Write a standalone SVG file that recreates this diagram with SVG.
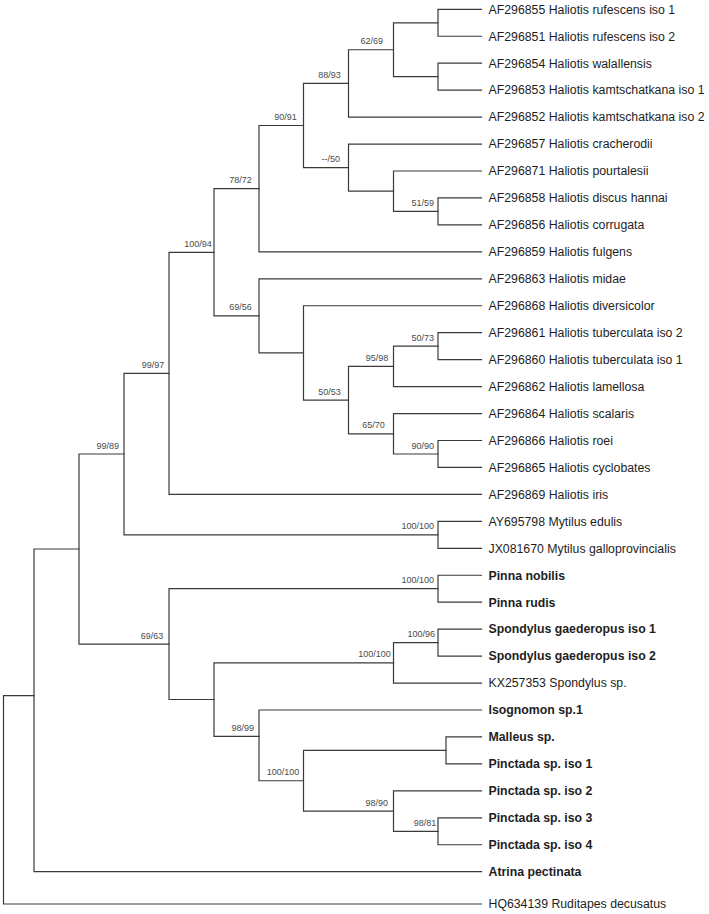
<svg xmlns="http://www.w3.org/2000/svg" width="709" height="914" viewBox="0 0 709 914">
<style>
.br{fill:none;stroke:#3a3a3a;stroke-width:1.2;stroke-linecap:square}
.lf{font-family:"Liberation Sans",Arial,sans-serif;font-size:12.3px;fill:#1e1e1e}
.b{font-weight:bold}
.sp{font-family:"Liberation Sans",Arial,sans-serif;font-size:9px;fill:#4a4a4a;text-anchor:end}
</style>
<rect width="709" height="914" fill="#ffffff"/>
<g id="connectors">
<path class="br" d="M34 695.7H3.5V904H481.5"/>
<path class="br" d="M79 549H34V871.7H481.5"/>
<path class="br" d="M124 454H79V644.1H169"/>
<path class="br" d="M169 373.3H124V534.8H438"/>
<path class="br" d="M214 252.3H169V494.4H481.5"/>
<path class="br" d="M259 188.7H214V315.9H259"/>
<path class="br" d="M303.5 125.5H259V251.85H481.5"/>
<path class="br" d="M348.5 83.4H303.5V167.6H348.5"/>
<path class="br" d="M393.5 49.75H348.5V117.1H481.5"/>
<path class="br" d="M438 22.8H393.5V76.7H438"/>
<path class="br" d="M481.5 9.3H438V36.25H481.5"/>
<path class="br" d="M481.5 63.2H438V90.15H481.5"/>
<path class="br" d="M481.5 144.05H348.5V191.2H393.5"/>
<path class="br" d="M481.5 171H393.5V211.4H438"/>
<path class="br" d="M481.5 197.95H438V224.9H481.5"/>
<path class="br" d="M481.5 278.8H259V352.9H303.5"/>
<path class="br" d="M481.5 305.75H303.5V400.1H348.5"/>
<path class="br" d="M393.5 366.4H348.5V433.8H393.5"/>
<path class="br" d="M438 346.2H393.5V386.6H481.5"/>
<path class="br" d="M481.5 332.7H438V359.65H481.5"/>
<path class="br" d="M481.5 413.55H393.5V454H438"/>
<path class="br" d="M481.5 440.5H438V467.45H481.5"/>
<path class="br" d="M481.5 521.35H438V548.3H481.5"/>
<path class="br" d="M438 588.7H169V699.5H214"/>
<path class="br" d="M481.5 575.25H438V602.2H481.5"/>
<path class="br" d="M393.5 662.8H214V736.3H259"/>
<path class="br" d="M438 642.6H393.5V683.05H481.5"/>
<path class="br" d="M481.5 629.15H438V656.1H481.5"/>
<path class="br" d="M481.5 710H259V780.75H303.5"/>
<path class="br" d="M446 750.4H303.5V811.1H393.5"/>
<path class="br" d="M481.5 736.95H446V763.9H481.5"/>
<path class="br" d="M481.5 790.85H393.5V831.3H438"/>
<path class="br" d="M481.5 817.8H438V844.75H481.5"/>
</g>
<g id="support-labels">
<g id="n-62-69"><text class="sp" x="383" y="44.3">62/69</text></g>
<g id="n-88-93"><text class="sp" x="340.7" y="77.9">88/93</text></g>
<g id="n-90-91"><text class="sp" x="296.7" y="120">90/91</text></g>
<g id="n-50"><text class="sp" x="340" y="162.1">--/50</text></g>
<g id="n-51-59"><text class="sp" x="434" y="205.9">51/59</text></g>
<g id="n-78-72"><text class="sp" x="251.7" y="183.2">78/72</text></g>
<g id="n-100-94"><text class="sp" x="211.7" y="246.8">100/94</text></g>
<g id="n-69-56"><text class="sp" x="251.7" y="310.4">69/56</text></g>
<g id="n-50-73"><text class="sp" x="434" y="340.7">50/73</text></g>
<g id="n-95-98"><text class="sp" x="388.3" y="360.9">95/98</text></g>
<g id="n-50-53"><text class="sp" x="340.7" y="394.6">50/53</text></g>
<g id="n-65-70"><text class="sp" x="384.7" y="428.3">65/70</text></g>
<g id="n-90-90"><text class="sp" x="434" y="448.5">90/90</text></g>
<g id="n-99-97"><text class="sp" x="164.3" y="367.8">99/97</text></g>
<g id="n-99-89"><text class="sp" x="119" y="448.5">99/89</text></g>
<g id="n-mytilus"><text class="sp" x="434" y="529.3">100/100</text></g>
<g id="n-pinna"><text class="sp" x="434" y="583.2">100/100</text></g>
<g id="n-69-63"><text class="sp" x="163.3" y="638.6">69/63</text></g>
<g id="n-100-96"><text class="sp" x="435" y="637.1">100/96</text></g>
<g id="n-spondylus"><text class="sp" x="390.7" y="657.3">100/100</text></g>
<g id="n-98-99"><text class="sp" x="254" y="730.8">98/99</text></g>
<g id="n-pinctada"><text class="sp" x="299.3" y="775.3">100/100</text></g>
<g id="n-98-90"><text class="sp" x="388" y="805.6">98/90</text></g>
<g id="n-98-81"><text class="sp" x="436.3" y="825.8">98/81</text></g>
</g>
<g id="leaves">
<g id="l01"><text class="lf" x="488.5" y="13.6">AF296855 Haliotis rufescens iso 1</text></g>
<g id="l02"><text class="lf" x="488.5" y="40.55">AF296851 Haliotis rufescens iso 2</text></g>
<g id="l03"><text class="lf" x="488.5" y="67.5">AF296854 Haliotis walallensis</text></g>
<g id="l04"><text class="lf" x="488.5" y="94.45">AF296853 Haliotis kamtschatkana iso 1</text></g>
<g id="l05"><text class="lf" x="488.5" y="121.4">AF296852 Haliotis kamtschatkana iso 2</text></g>
<g id="l06"><text class="lf" x="488.5" y="148.35">AF296857 Haliotis cracherodii</text></g>
<g id="l07"><text class="lf" x="488.5" y="175.3">AF296871 Haliotis pourtalesii</text></g>
<g id="l08"><text class="lf" x="488.5" y="202.25">AF296858 Haliotis discus hannai</text></g>
<g id="l09"><text class="lf" x="488.5" y="229.2">AF296856 Haliotis corrugata</text></g>
<g id="l10"><text class="lf" x="488.5" y="256.15">AF296859 Haliotis fulgens</text></g>
<g id="l11"><text class="lf" x="488.5" y="283.1">AF296863 Haliotis midae</text></g>
<g id="l12"><text class="lf" x="488.5" y="310.05">AF296868 Haliotis diversicolor</text></g>
<g id="l13"><text class="lf" x="488.5" y="337">AF296861 Haliotis tuberculata iso 2</text></g>
<g id="l14"><text class="lf" x="488.5" y="363.95">AF296860 Haliotis tuberculata iso 1</text></g>
<g id="l15"><text class="lf" x="488.5" y="390.9">AF296862 Haliotis lamellosa</text></g>
<g id="l16"><text class="lf" x="488.5" y="417.85">AF296864 Haliotis scalaris</text></g>
<g id="l17"><text class="lf" x="488.5" y="444.8">AF296866 Haliotis roei</text></g>
<g id="l18"><text class="lf" x="488.5" y="471.75">AF296865 Haliotis cyclobates</text></g>
<g id="l19"><text class="lf" x="488.5" y="498.7">AF296869 Haliotis iris</text></g>
<g id="l20"><text class="lf" x="488.5" y="525.65">AY695798 Mytilus edulis</text></g>
<g id="l21"><text class="lf" x="488.5" y="552.6">JX081670 Mytilus galloprovincialis</text></g>
<g id="l22"><text class="lf b" x="488.5" y="579.55">Pinna nobilis</text></g>
<g id="l23"><text class="lf b" x="488.5" y="606.5">Pinna rudis</text></g>
<g id="l24"><text class="lf b" x="488.5" y="633.45">Spondylus gaederopus iso 1</text></g>
<g id="l25"><text class="lf b" x="488.5" y="660.4">Spondylus gaederopus iso 2</text></g>
<g id="l26"><text class="lf" x="488.5" y="687.35">KX257353 Spondylus sp.</text></g>
<g id="l27"><text class="lf b" x="488.5" y="714.3">Isognomon sp.1</text></g>
<g id="l28"><text class="lf b" x="488.5" y="741.25">Malleus sp.</text></g>
<g id="l29"><text class="lf b" x="488.5" y="768.2">Pinctada sp. iso 1</text></g>
<g id="l30"><text class="lf b" x="488.5" y="795.15">Pinctada sp. iso 2</text></g>
<g id="l31"><text class="lf b" x="488.5" y="822.1">Pinctada sp. iso 3</text></g>
<g id="l32"><text class="lf b" x="488.5" y="849.05">Pinctada sp. iso 4</text></g>
<g id="l33"><text class="lf b" x="488.5" y="876">Atrina pectinata</text></g>
<g id="l34"><text class="lf" x="488.5" y="908.3">HQ634139 Ruditapes decusatus</text></g>
</g>
</svg>
